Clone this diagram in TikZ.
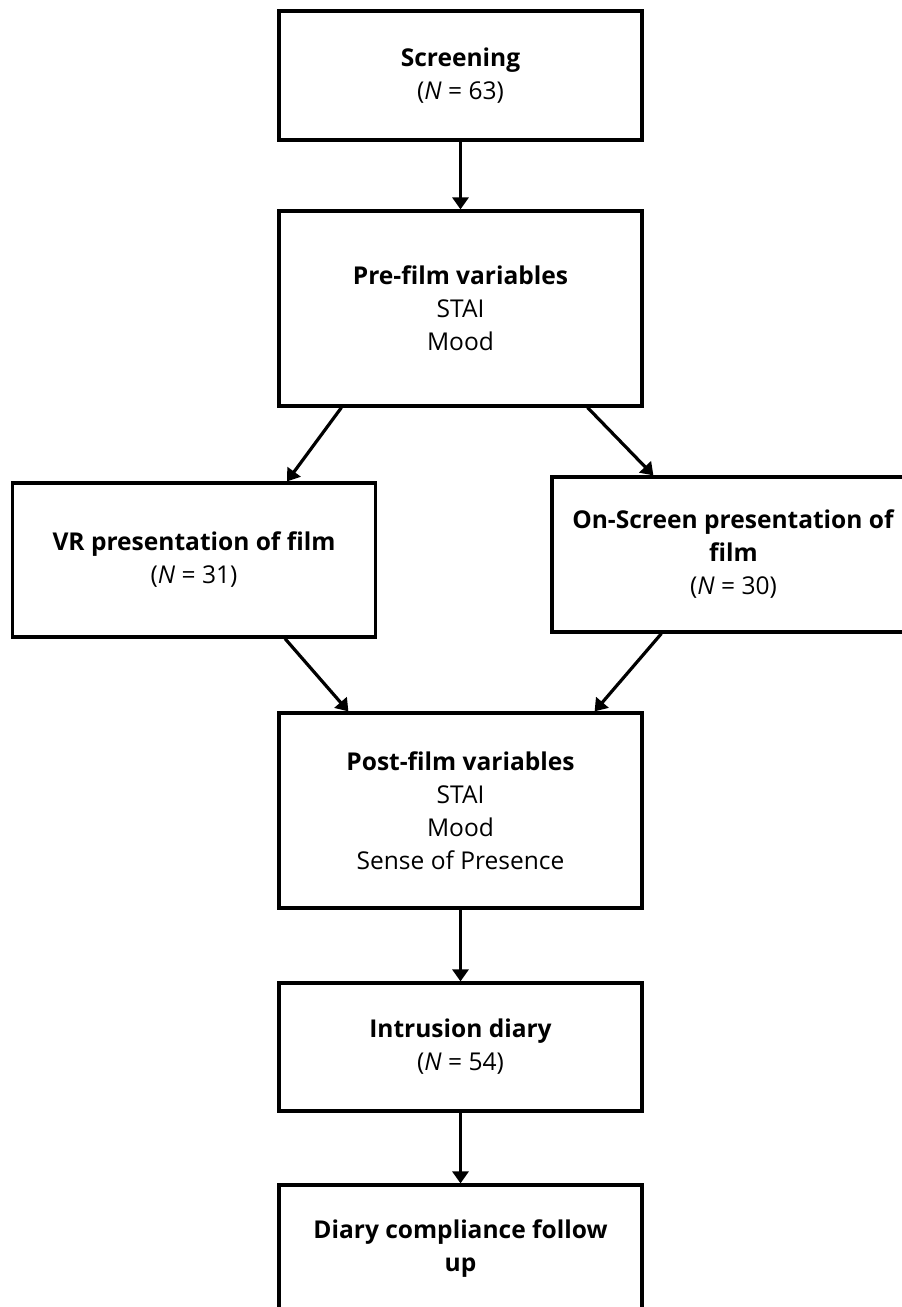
\documentclass[tikz,border=0pt]{standalone}
\usepackage{fontspec}
\setmainfont{Open Sans}
\usetikzlibrary{arrows.meta,calc}

\begin{document}
\begin{tikzpicture}[x=0.75pt,y=-0.75pt,
  box/.style={draw=black,line width=2.4pt,align=center,inner sep=0pt,
    minimum width=272.25pt,font=\fontsize{18.4pt}{24.75pt}\selectfont},
  flow/.style={line width=2.4pt,-{Triangle[length=9pt,width=12pt]}}]
\useasboundingbox (0,0) rectangle (901,1307);
% boxes
\node[box,minimum height=96.75pt] (screen) at (460.5,75.5) {\textbf{Screening}\\(\textit{N} = 63)};
\node[box,minimum height=146.25pt] (pre) at (460.5,308.5) {\textbf{Pre-film variables}\\STAI\\Mood};
\node[box,minimum height=115.5pt] (vr) at (194,560) {\textbf{VR presentation of film}\\(\textit{N} = 31)};
\node[box,minimum height=116.25pt] (onscreen) at (733.5,554.5) {\textbf{On-Screen presentation of}\\\textbf{film}\\(\textit{N} = 30)};
\node[box,minimum height=146.25pt] (post) at (460.5,810.5) {\textbf{Post-film variables}\\STAI\\Mood\\Sense of Presence};
\node[box,minimum height=96pt] (diary) at (460.5,1047) {\textbf{Intrusion diary}\\(\textit{N} = 54)};
\node[box,minimum height=96pt] (follow) at (460.5,1249) {\textbf{Diary compliance follow}\\\textbf{up}};
% arrows
\draw[flow] (screen) -- (pre);
\draw[flow] ($(pre.south west)+(64,0)$) -- ($(vr.north)+(93,0)$);
\draw[flow] ($(pre.south east)+(-56,0)$) -- ($(onscreen.north west)+(103,0)$);
\draw[flow] ($(vr.south)+(91,0)$) -- ($(post.north west)+(71,0)$);
\draw[flow] ($(onscreen.south west)+(111,0)$) -- ($(post.north east)+(-49,0)$);
\draw[flow] (post) -- (diary);
\draw[flow] (diary) -- (follow);
\end{tikzpicture}
\end{document}
